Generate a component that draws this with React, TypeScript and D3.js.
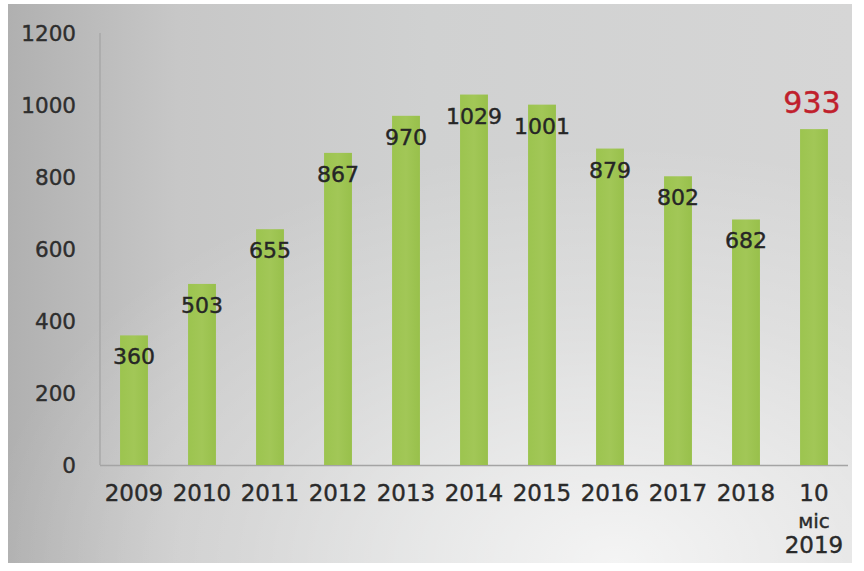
import React from "react";
import * as d3 from "d3";

const categories = ["2009", "2010", "2011", "2012", "2013", "2014", "2015", "2016", "2017", "2018", "10 міс 2019"];
const values = [360, 503, 655, 867, 970, 1029, 1001, 879, 802, 682, 933];
const yTicks = [0, 200, 400, 600, 800, 1000, 1200];

const W = 864;
const H = 571;
const FONT = "'DejaVu Sans', Verdana, sans-serif";

export default function App() {
  const x = d3.scaleBand<string>().domain(categories).range([100, 848]).paddingInner(0.59).paddingOuter(0.295);
  const y = d3.scaleLinear().domain([0, 1200]).range([465, 33]);
  const last = categories.length - 1;

  return (
    <svg width={W} height={H} style={{ position: "absolute", left: 0, top: 0 }} xmlns="http://www.w3.org/2000/svg">
      <defs>
        <linearGradient id="bgH" x1="0" y1="0" x2="1" y2="0">
          <stop offset="0" stopColor="#b0b0b0" />
          <stop offset="0.2" stopColor="#c7c7c7" />
          <stop offset="0.5" stopColor="#d0d1d1" />
          <stop offset="1" stopColor="#d6d6d6" />
        </linearGradient>
        <radialGradient id="bgGlow" cx="0.72" cy="1.0" r="0.75" fx="0.72" fy="1.0">
          <stop offset="0" stopColor="#ffffff" stopOpacity="0.75" />
          <stop offset="0.6" stopColor="#ffffff" stopOpacity="0.25" />
          <stop offset="1" stopColor="#ffffff" stopOpacity="0" />
        </radialGradient>
        <linearGradient id="bar" x1="0" y1="0" x2="1" y2="0">
          <stop offset="0" stopColor="#9cc44f" />
          <stop offset="0.5" stopColor="#a2c757" />
          <stop offset="1" stopColor="#98c04b" />
        </linearGradient>
      </defs>
      <rect x={0} y={0} width={W} height={H} fill="#ffffff" />
      <rect x={8} y={4} width={844} height={559} fill="url(#bgH)" />
      <rect x={8} y={4} width={844} height={559} fill="url(#bgGlow)" />

      {/* axes */}
      <line x1={100} x2={100} y1={y(1200)} y2={y(0)} stroke="#a9a9a9" strokeWidth={1.5} />
      <line x1={100} x2={848} y1={y(0) + 0.5} y2={y(0) + 0.5} stroke="#a4a4a4" strokeWidth={1.5} />

      {yTicks.map((t) => (
        <text key={t} x={76} y={y(t) + 7.5} textAnchor="end" fontFamily={FONT} fontSize={21.5} fill="#2e2e2e" stroke="#2e2e2e" strokeWidth={0.4}>
          {t}
        </text>
      ))}

      {categories.map((c, i) => (
        <rect key={c} x={x(c)} y={y(values[i])} width={x.bandwidth()} height={y(0) - y(values[i])} fill="url(#bar)" />
      ))}

      {categories.map((c, i) => {
        const cx = (x(c) as number) + x.bandwidth() / 2;
        if (i === last) {
          return (
            <text key={c} x={cx - 2} y={y(values[i]) - 16} textAnchor="middle" fontFamily={FONT} fontSize={30} fill="#c0202c" stroke="#c0202c" strokeWidth={0.4}>
              {values[i]}
            </text>
          );
        }
        return (
          <text key={c} x={cx} y={y(values[i]) + 29} textAnchor="middle" fontFamily={FONT} fontSize={22} fill="#262626" stroke="#262626" strokeWidth={0.4}>
            {values[i]}
          </text>
        );
      })}

      {categories.map((c, i) => {
        const cx = (x(c) as number) + x.bandwidth() / 2;
        if (i === last) {
          const parts = c.split(" ");
          return (
            <g key={c} fontFamily={FONT} fill="#2a2a2a" stroke="#2a2a2a" strokeWidth={0.4} textAnchor="middle">
              <text x={cx} y={501} fontSize={23}>{parts[0]}</text>
              <text x={cx} y={528} fontSize={20}>{parts[1]}</text>
              <text x={cx} y={553} fontSize={23}>{parts[2]}</text>
            </g>
          );
        }
        return (
          <text key={c} x={cx} y={501} textAnchor="middle" fontFamily={FONT} fontSize={23} fill="#2a2a2a" stroke="#2a2a2a" strokeWidth={0.4}>
            {c}
          </text>
        );
      })}
    </svg>
  );
}
